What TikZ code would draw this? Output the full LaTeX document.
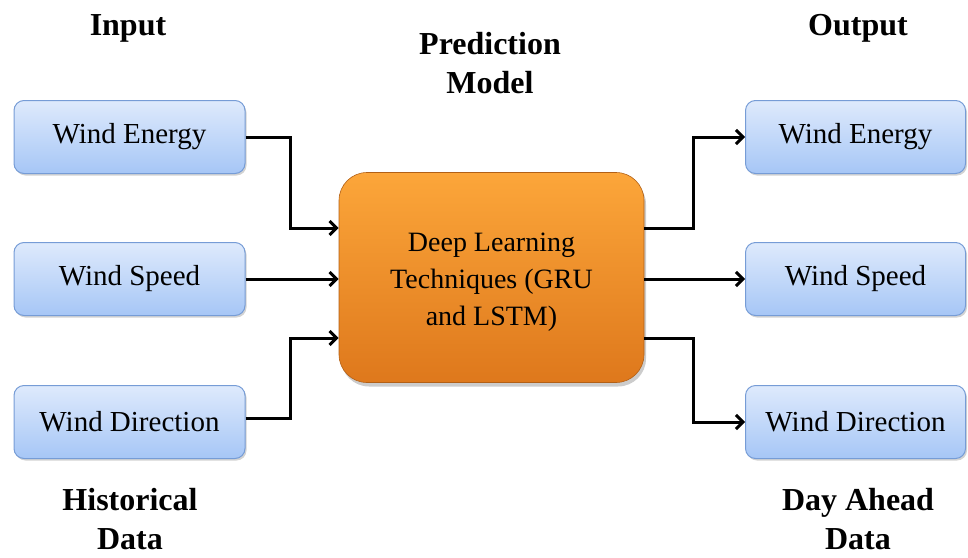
\documentclass[tikz,border=0pt]{standalone}
\usepackage{fontspec}
\setmainfont{Liberation Serif}
\usetikzlibrary{arrows.meta,shadows}
\definecolor{boxtop}{RGB}{222,234,252}
\definecolor{boxbot}{RGB}{166,198,246}
\definecolor{boxedge}{RGB}{118,156,214}
\definecolor{coretop}{RGB}{252,166,58}
\definecolor{corebot}{RGB}{222,120,28}
\begin{document}
\begin{tikzpicture}[x=1pt,y=-1pt,
  inbox/.style={draw=boxedge, line width=1pt, rounded corners=10pt,
    top color=boxtop, bottom color=boxbot,
    minimum height=73pt, font=\fontsize{29}{32}\selectfont,
    drop shadow={shadow xshift=1.5pt, shadow yshift=-2pt, opacity=0.35}},
  corebox/.style={draw=corebot!80!black, line width=0.6pt, rounded corners=28pt,
    top color=coretop, bottom color=corebot,
    minimum width=305pt, minimum height=210pt, align=center,
    font=\fontsize{28}{37}\selectfont,
    drop shadow={shadow xshift=2pt, shadow yshift=-4pt, opacity=0.4}},
  head/.style={font=\bfseries\fontsize{32}{39}\selectfont, align=center},
  conn/.style={line width=3pt, -{Straight Barb[length=7pt,width=14pt,line width=3pt]}}
]
\useasboundingbox (0,0) rectangle (968,557);
\node[inbox, minimum width=231pt] (ie) at (129.5,137) {Wind Energy};
\node[inbox, minimum width=231pt] (is) at (129.5,279) {Wind Speed};
\node[inbox, minimum width=231pt] (id) at (129.5,422) {Wind Direction};
\node[inbox, minimum width=220pt] (oe) at (855.5,137) {Wind Energy};
\node[inbox, minimum width=220pt] (os) at (855.5,279) {Wind Speed};
\node[inbox, minimum width=220pt] (od) at (855.5,422) {Wind Direction};
\node[corebox] (m) at (491.5,277.5) {};
\node[align=center, font=\fontsize{28}{37}\selectfont] (mt) at (491.5,282) {Deep Learning\\Techniques (GRU\\and LSTM)};
\node[head] (hin) at (128,28) {Input};
\node[head] (hpm) at (490,63) {Prediction\\Model};
\node[head] (hout) at (858,28) {Output};
\node[head] (hhist) at (130,519) {Historical\\Data};
\node[head] (hday) at (858,519) {Day Ahead\\Data};
\coordinate (lx) at (290,0);
\coordinate (rx) at (693,0);
\coordinate (ya) at (0,228);
\coordinate (yb) at (0,338);
\draw[conn] (ie.east) -| (lx |- ya) -- (m.west |- ya);
\draw[conn] (is.east) -- (m.west |- is.east);
\draw[conn] ([yshift=4pt]id.east) -| (lx |- yb) -- (m.west |- yb);
\draw[conn] (m.east |- ya) -| (rx |- oe.west) -- (oe.west);
\draw[conn] (m.east |- os.west) -- (os.west);
\draw[conn] (m.east |- yb) -| (rx |- od.west) -- (od.west);
\end{tikzpicture}
\end{document}
